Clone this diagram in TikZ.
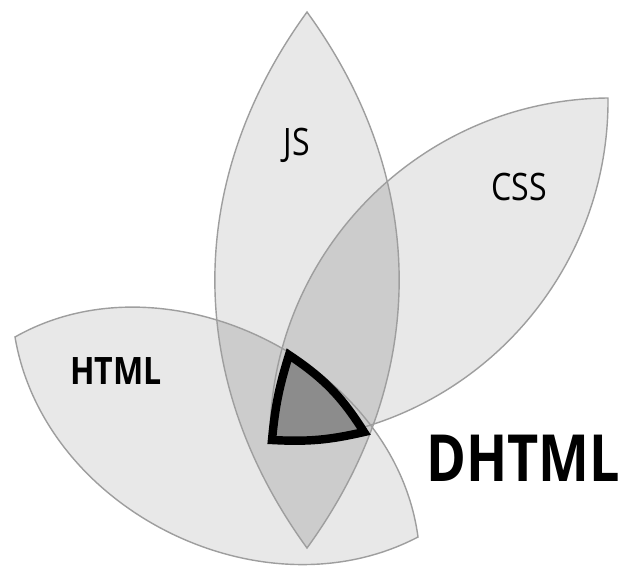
\documentclass[tikz,border=0pt]{standalone}
\usepackage{fontspec}
\setmainfont{Open Sans}
\definecolor{leaf}{gray}{0.91}
\definecolor{leaftwo}{gray}{0.80}
\definecolor{leafthree}{gray}{0.55}
\definecolor{rim}{gray}{0.62}

\tikzset{
  leafrim/.style={draw=rim, line width=0.8pt},
  leaflabel/.style={font=\fontsize{21.5}{24}\selectfont, xscale=0.85},
}

\begin{document}
\begin{tikzpicture}[x=0.02cm, y=-0.02cm]
  \useasboundingbox (0,0) rectangle (621,568);

  % tips of the three leaves
  \coordinate (js-top) at (307,12);
  \coordinate (js-bot) at (307,548);
  \coordinate (css-in) at (270,441);
  \coordinate (css-out) at (608,98);
  \coordinate (html-out) at (15,337);
  \coordinate (html-in) at (418,537);

  \def\jsleaf{(js-top) to[bend left=36] (js-bot) to[bend left=36] (js-top) -- cycle}
  \def\cssleaf{(css-in) to[bend left=45] (css-out) to[bend left=45] (css-in) -- cycle}
  \def\htmlleaf{(html-out) to[bend left=56] (html-in) to[bend left=54] (html-out) -- cycle}

  % single leaves
  \fill[leaf] \jsleaf;
  \fill[leaf] \cssleaf;
  \fill[leaf] \htmlleaf;

  % overlaps of two
  \begin{scope}
    \clip \jsleaf;
    \fill[leaftwo] \cssleaf;
    \fill[leaftwo] \htmlleaf;
  \end{scope}
  \begin{scope}
    \clip \cssleaf;
    \fill[leaftwo] \htmlleaf;
  \end{scope}

  % outlines
  \path[leafrim] \jsleaf;
  \path[leafrim] \cssleaf;
  \path[leafrim] \htmlleaf;

  % overlap of all three
  \coordinate (dh-top) at (289,355);
  \coordinate (dh-left) at (272,440);
  \coordinate (dh-right) at (364,432);
  \filldraw[fill=leafthree, line width=4.8pt, miter limit=20]
    (dh-top) to[bend right=6] (dh-left) to[bend right=8] (dh-right)
    to[bend right=12] (dh-top) -- cycle;

  % labels
  \node[leaflabel] (js) at (297,145) {JS};
  \node[leaflabel] (css) at (519,187) {CSS};
  \node[leaflabel, font=\fontsize{21.5}{24}\selectfont\bfseries] (html) at (116,371) {HTML};
  \node[font=\fontsize{37}{40}\selectfont\bfseries, xscale=0.83] (dhtml) at (523,458) {DHTML};
\end{tikzpicture}
\end{document}
